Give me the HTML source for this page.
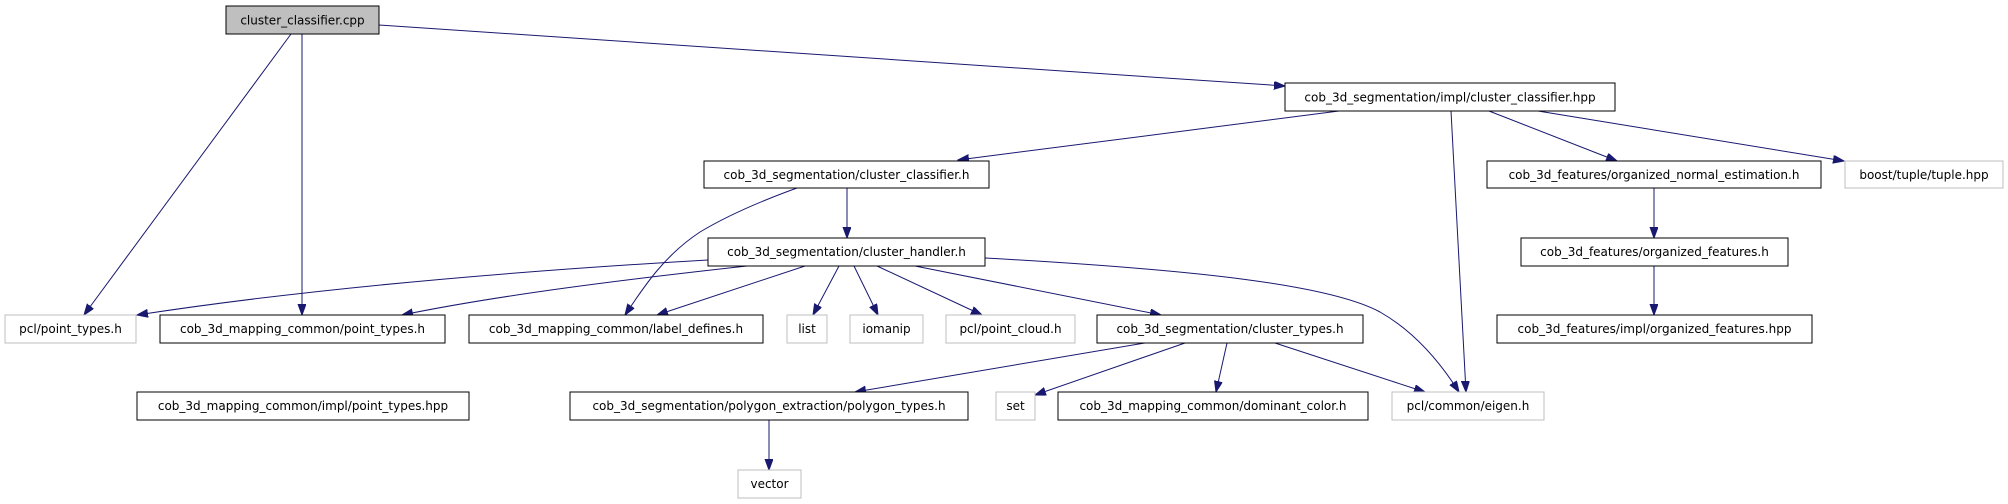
<!DOCTYPE html>
<html><head><meta charset="utf-8"><style>
html,body{margin:0;padding:0;background:#fff;}
svg{display:block;}
text{font-family:"DejaVu Sans","Liberation Sans",sans-serif;font-size:12px;fill:#000;text-anchor:middle;}
.n{fill:#fff;stroke:#000;stroke-width:1;}
.g{fill:#fff;stroke:#bfbfbf;stroke-width:1;}
.e{fill:none;stroke:#191970;stroke-width:1;}
</style></head><body>
<svg width="2008" height="504" viewBox="0 0 2008 504" xmlns="http://www.w3.org/2000/svg">
<defs>
<marker id="a" markerUnits="userSpaceOnUse" markerWidth="12" markerHeight="10" refX="11" refY="4" orient="auto">
<path d="M0,0 L11,4 L0,8 Z" fill="#191970" stroke="#191970"/>
</marker>
</defs>
<g marker-end="url(#a)">
<path class="e" d="M291,34 L84,315"/>
<path class="e" d="M302,34 L302,315"/>
<path class="e" d="M379,25 L1285,86"/>
<path class="e" d="M1339,111 L958,160"/>
<path class="e" d="M1451,111 L1466,392"/>
<path class="e" d="M1489,111 L1617,161"/>
<path class="e" d="M1538,111 L1844,161"/>
<path class="e" d="M1654,188 L1654,238"/>
<path class="e" d="M1654,266 L1654,315"/>
<path class="e" d="M847,188 L847,238"/>
<path class="e" d="M797,188 C750,205 720,220 700,232 C665,255 645,285 625,315"/>
<path class="e" d="M708,260 C500,272 300,290 137,315"/>
<path class="e" d="M747,266 C620,280 500,295 402,315"/>
<path class="e" d="M805,266 L657,315"/>
<path class="e" d="M839,266 L813,315"/>
<path class="e" d="M854,266 L878,315"/>
<path class="e" d="M877,266 L982,315"/>
<path class="e" d="M915,266 L1161,315"/>
<path class="e" d="M985,258 C1200,270 1330,285 1380,312 C1415,332 1440,362 1459,392"/>
<path class="e" d="M1145,343 L855,392"/>
<path class="e" d="M1185,343 L1035,395"/>
<path class="e" d="M1227,343 L1216,392"/>
<path class="e" d="M1275,343 L1425,392"/>
<path class="e" d="M769,420 L769,470"/>
</g>
<rect x="226" y="6" width="153" height="28" fill="#bfbfbf" stroke="#000"/>
<text x="302.5" y="24.5">cluster_classifier.cpp</text>

<rect class="n" x="1285" y="83" width="330" height="28"/>
<text x="1450" y="101.5">cob_3d_segmentation/impl/cluster_classifier.hpp</text>

<rect class="n" x="704" y="161" width="285" height="27"/>
<text x="846.5" y="179">cob_3d_segmentation/cluster_classifier.h</text>

<rect class="n" x="1487" y="161" width="334" height="27"/>
<text x="1654" y="179">cob_3d_features/organized_normal_estimation.h</text>

<rect class="g" x="1845" y="161" width="158" height="27"/>
<text x="1924" y="179">boost/tuple/tuple.hpp</text>

<rect class="n" x="708" y="238" width="277" height="28"/>
<text x="846.5" y="256">cob_3d_segmentation/cluster_handler.h</text>

<rect class="n" x="1521" y="238" width="267" height="28"/>
<text x="1654.5" y="256">cob_3d_features/organized_features.h</text>

<rect class="g" x="5" y="315" width="131" height="28"/>
<text x="70.5" y="333">pcl/point_types.h</text>

<rect class="n" x="160" y="315" width="285" height="28"/>
<text x="302.5" y="333">cob_3d_mapping_common/point_types.h</text>

<rect class="n" x="469" y="315" width="294" height="28"/>
<text x="616" y="333">cob_3d_mapping_common/label_defines.h</text>

<rect class="g" x="787" y="315" width="40" height="28"/>
<text x="807" y="333">list</text>

<rect class="g" x="850" y="315" width="73" height="28"/>
<text x="886.5" y="333">iomanip</text>

<rect class="g" x="946" y="315" width="129" height="28"/>
<text x="1010.5" y="333">pcl/point_cloud.h</text>

<rect class="n" x="1097" y="315" width="266" height="28"/>
<text x="1230" y="333">cob_3d_segmentation/cluster_types.h</text>

<rect class="n" x="1497" y="315" width="315" height="28"/>
<text x="1654.5" y="333">cob_3d_features/impl/organized_features.hpp</text>

<rect class="n" x="137" y="392" width="332" height="28"/>
<text x="303" y="410">cob_3d_mapping_common/impl/point_types.hpp</text>

<rect class="n" x="570" y="392" width="398" height="28"/>
<text x="769" y="410">cob_3d_segmentation/polygon_extraction/polygon_types.h</text>

<rect class="g" x="996" y="392" width="39" height="28"/>
<text x="1015.5" y="410">set</text>

<rect class="n" x="1058" y="392" width="310" height="28"/>
<text x="1213" y="410">cob_3d_mapping_common/dominant_color.h</text>

<rect class="g" x="1392" y="392" width="152" height="28"/>
<text x="1468" y="410">pcl/common/eigen.h</text>

<rect class="g" x="738" y="470" width="63" height="28"/>
<text x="769.5" y="488">vector</text>
</svg>
</body></html>
